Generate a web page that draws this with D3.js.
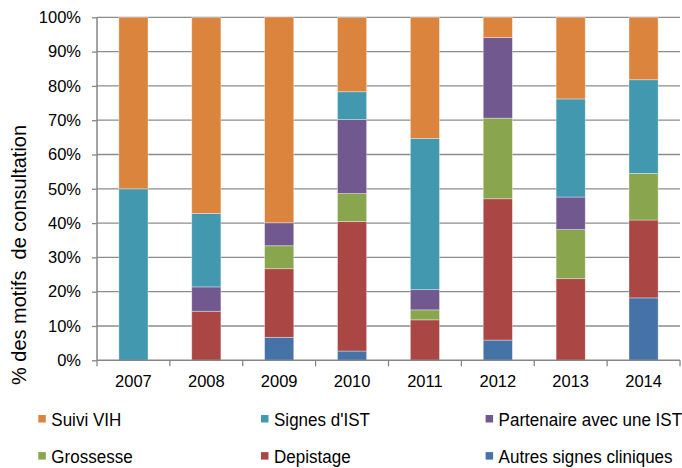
<!DOCTYPE html>
<html><head><meta charset="utf-8">
<script src="https://cdn.jsdelivr.net/npm/d3@7"></script>
<style>body{margin:0;background:#fff}svg{display:block}text{font-family:"Liberation Sans",Arial,sans-serif;fill:#000}</style>
</head><body><svg id="c" width="682" height="468"></svg>
<script>
const years = ["2007","2008","2009","2010","2011","2012","2013","2014"];
const seriesNames = ["Autres signes cliniques","Depistage","Grossesse","Partenaire avec une IST","Signes d'IST","Suivi VIH"];
const autres      = [0,    0,    6.7,  2.7,  0,    5.9,  0,    18.2];
const depistage   = [0,    14.3, 20.0, 37.8, 11.8, 41.2, 23.8, 22.7];
const grossesse   = [0,    0,    6.7,  8.1,  2.9,  23.5, 14.3, 13.6];
const partenaire  = [0,    7.1,  6.7,  21.6, 5.9,  23.5, 9.5,  0];
const signesIST   = [50.0, 21.4, 0,    8.1,  44.1, 0,    28.6, 27.3];
const suiviVIH    = [50.0, 57.1, 60.0, 21.6, 35.3, 5.9,  23.8, 18.2];
const yTicks = [0,10,20,30,40,50,60,70,80,90,100];
const colors = ["#4572A7","#AA4643","#89A54E","#71588F","#4198AF","#DB843D"];
const legendOrder = ["Suivi VIH","Signes d'IST","Partenaire avec une IST","Grossesse","Depistage","Autres signes cliniques"];

const seriesVals = [autres, depistage, grossesse, partenaire, signesIST, suiviVIH];
const table = years.map((y,i)=>{const o={year:y}; seriesNames.forEach((s,j)=>o[s]=seriesVals[j][i]); return o;});
const stack = d3.stack().keys(seriesNames)(table);

const svg = d3.select("#c");
const L=97, R=680, T=17.3, B=360.3;
const x = d3.scaleBand().domain(years).range([L,R]).paddingInner(0.6).paddingOuter(0.3);
const y = d3.scaleLinear().domain([0,100]).range([B,T]);
const color = d3.scaleOrdinal().domain(seriesNames).range(colors);

// gridlines
svg.append("g").selectAll("line").data(yTicks.filter(d=>d>0)).join("line")
  .attr("x1",L).attr("x2",R).attr("y1",d=>y(d)).attr("y2",d=>y(d))
  .attr("stroke","#8c8c8c").attr("stroke-width",1.3);

// bars
svg.append("g").selectAll("g").data(stack).join("g").attr("fill",d=>color(d.key))
  .selectAll("rect").data(d=>d.filter(p=>p[1]-p[0]>0)).join("rect")
  .attr("x",d=>x(d.data.year)).attr("width",x.bandwidth())
  .attr("y",d=>y(d[1])).attr("height",d=>y(d[0])-y(d[1]))
  .attr("stroke","rgba(255,255,255,0.45)").attr("stroke-width",0.8);

// y axis
const ya = svg.append("g").attr("transform",`translate(${L},0)`)
  .call(d3.axisLeft(y).tickValues(yTicks).tickFormat(d=>d+"%").tickSize(5).tickPadding(11));
ya.select(".domain").attr("stroke","#868686").attr("stroke-width",1.5).attr("d",`M0,${T}V${B}`);
ya.selectAll(".tick line").attr("stroke","#868686").attr("stroke-width",1.3);
ya.selectAll("text").style("font-size","16.5px").attr("fill","#000");

// x axis
const xs = d3.scalePoint().domain(d3.range(years.length+1)).range([L,R]);
const xa = svg.append("g").attr("transform",`translate(0,${B})`);
xa.append("line").attr("x1",L).attr("x2",R).attr("stroke","#868686").attr("stroke-width",1.5);
xa.selectAll("line.t").data(xs.domain()).join("line").attr("class","t")
  .attr("x1",d=>xs(d)).attr("x2",d=>xs(d)).attr("y1",0).attr("y2",6).attr("stroke","#868686").attr("stroke-width",1.3);
xa.selectAll("text").data(years).join("text")
  .attr("x",d=>x(d)+x.bandwidth()/2).attr("y",27).attr("text-anchor","middle")
  .style("font-size","16.5px").text(d=>d);

// y label
svg.append("text").attr("transform","translate(25.5,255) rotate(-90)").attr("text-anchor","middle")
  .style("font-size","20px").text("% des motifs\u00a0\u00a0de consultation");

// legend
const colX=[38.3,261,485.6], rowY=[418.7,455.8];
legendOrder.forEach((s,i)=>{
  const cx=colX[i%3], cy=rowY[Math.floor(i/3)];
  svg.append("rect").attr("x",cx).attr("y",cy-3.7).attr("width",7.5).attr("height",7.5).attr("fill",color(s));
  svg.append("text").attr("transform",`translate(${cx+13},${cy+7}) scale(0.92,1)`)
    .style("font-size","18.5px").text(s);
});
</script></body></html>
